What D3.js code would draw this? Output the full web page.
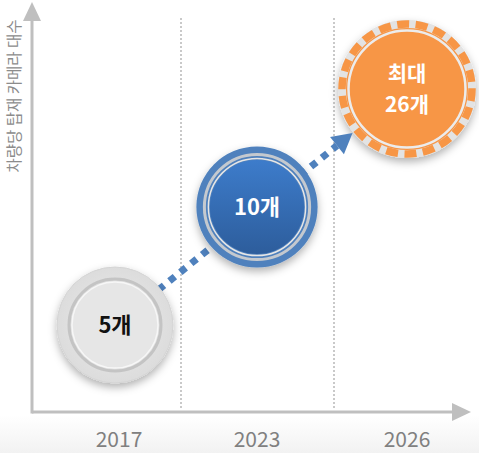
<!DOCTYPE html>
<html>
<head>
<meta charset="utf-8">
<script src="https://cdn.jsdelivr.net/npm/d3@7"></script>
<style>
  html, body { margin: 0; padding: 0; background: #fff; }
  #chart { width: 479px; height: 453px; }
  text { font-family: "Noto Sans CJK KR", "DejaVu Sans", sans-serif; }
</style>
</head>
<body>
<div id="chart"></div>
<script>
(function() {
    const years = ["2017", "2023", "2026"];
    const counts = [5, 10, 26];
    const labels = [["5개"], ["10개"], ["최대", "26개"]];
    const yTitle = "차량당 탑재 카메라 대수";

    const W = 479, H = 453;
    const axisColor = "#bfbfbf";

    const svg = d3.select("#chart").append("svg")
        .attr("width", W)
        .attr("height", H);

    const defs = svg.append("defs");

    // soft grey floor behind the year labels
    const floor = defs.append("linearGradient").attr("id", "floor")
        .attr("x1", 0).attr("y1", 0).attr("x2", 0).attr("y2", 1);
    floor.append("stop").attr("offset", "0%").attr("stop-color", "#ffffff");
    floor.append("stop").attr("offset", "100%").attr("stop-color", "#f2f2f2");

    const shadow = defs.append("filter").attr("id", "shadow")
        .attr("x", "-30%").attr("y", "-30%").attr("width", "160%").attr("height", "170%");
    shadow.append("feDropShadow")
        .attr("dx", 0).attr("dy", 4).attr("stdDeviation", 4)
        .attr("flood-color", "#000").attr("flood-opacity", 0.3);

    const grayFill = defs.append("radialGradient").attr("id", "grayFill");
    grayFill.append("stop").attr("offset", "0%").attr("stop-color", "#ececec");
    grayFill.append("stop").attr("offset", "100%").attr("stop-color", "#dcdcdc");

    const blueFill = defs.append("linearGradient").attr("id", "blueFill")
        .attr("x1", 0).attr("y1", 0).attr("x2", 0).attr("y2", 1);
    blueFill.append("stop").attr("offset", "0%").attr("stop-color", "#3d7ccb");
    blueFill.append("stop").attr("offset", "100%").attr("stop-color", "#2d5d9c");

    svg.append("rect")
        .attr("x", 0).attr("y", 415).attr("width", W).attr("height", H - 415)
        .attr("fill", "url(#floor)");

    // scales
    const x = d3.scaleBand().domain(years).range([34, 484]);
    const y = d3.scalePoint().domain(years).range([325, 89]);
    const r = d3.scaleLinear().domain([5, 26]).range([58, 69]);

    const axisY = 412, axisX = 32;

    // dotted separators between bands
    svg.selectAll(".sep")
        .data(years.slice(1))
        .enter().append("line")
        .attr("class", "sep")
        .attr("x1", d => x(d) - (d === "2023" ? 3 : 0))
        .attr("x2", d => x(d) - (d === "2023" ? 3 : 0))
        .attr("y1", 18).attr("y2", axisY - 2)
        .attr("stroke", "#a6a6a6")
        .attr("stroke-width", 1.2)
        .attr("stroke-dasharray", "2 2");

    // axes with arrow heads
    svg.append("line")
        .attr("x1", axisX).attr("x2", axisX)
        .attr("y1", axisY + 1.5).attr("y2", 18)
        .attr("stroke", axisColor).attr("stroke-width", 3);
    svg.append("path")
        .attr("d", `M${axisX - 9},21 L${axisX},2 L${axisX + 9},21 Z`)
        .attr("fill", axisColor);
    svg.append("line")
        .attr("x1", axisX).attr("x2", 455)
        .attr("y1", axisY).attr("y2", axisY)
        .attr("stroke", axisColor).attr("stroke-width", 3);
    svg.append("path")
        .attr("d", `M452,${axisY - 9} L471,${axisY} L452,${axisY + 9} Z`)
        .attr("fill", axisColor);

    svg.append("text")
        .attr("transform", `translate(20,96) rotate(-90)`)
        .attr("text-anchor", "middle")
        .attr("fill", "#8c8c8c")
        .style("font-size", "15.5px")
        .text(yTitle);

    svg.selectAll(".year")
        .data(years)
        .enter().append("text")
        .attr("class", "year")
        .attr("x", (d, i) => x(d) + x.bandwidth() / 2 + (i === 0 ? 10 : -2))
        .attr("y", 447)
        .attr("text-anchor", "middle")
        .attr("fill", "#808080")
        .style("font-size", "21px")
        .text(d => d);

    const pts = years.map((d, i) => ({
        year: d,
        value: counts[i],
        cx: x(d) + x.bandwidth() / 2 + (i === 0 ? 6 : -2),
        cy: y(d),
        r: r(counts[i]),
        label: labels[i]
    }));

    // dotted trend arrow from first to last circle
    const a = pts[0], b = pts[pts.length - 1];
    const len = Math.hypot(b.cx - a.cx, b.cy - a.cy);
    const ux = (b.cx - a.cx) / len, uy = (b.cy - a.cy) / len;
    const sx = a.cx + ux * (a.r - 2), sy = a.cy + uy * (a.r - 2);
    const tx = b.cx - ux * (b.r + 1), ty = b.cy - uy * (b.r + 1);
    const headLen = 20;
    const arrowBlue = "#4f81bd";

    svg.append("line")
        .attr("x1", sx).attr("y1", sy)
        .attr("x2", tx - ux * headLen).attr("y2", ty - uy * headLen)
        .attr("stroke", arrowBlue)
        .attr("stroke-width", 7)
        .attr("stroke-dasharray", "7 7");

    // circles
    const g = svg.selectAll(".bubble")
        .data(pts)
        .enter().append("g")
        .attr("class", "bubble")
        .attr("transform", d => `translate(${d.cx},${d.cy})`);

    // 2017: grey
    const g0 = g.filter((d, i) => i === 0);
    g0.append("circle").attr("r", d => d.r).attr("fill", "url(#grayFill)")
        .attr("stroke", "#d4d4d4").attr("stroke-width", 1)
        .attr("filter", "url(#shadow)");
    g0.append("circle").attr("r", d => d.r - 12).attr("fill", "none")
        .attr("stroke", "#c4c4c4").attr("stroke-width", 3);
    g0.append("circle").attr("r", d => d.r - 15).attr("fill", "#e6e6e6")
        .attr("stroke", "#f7f7f7").attr("stroke-width", 1.5);

    // 2023: blue
    const g1 = g.filter((d, i) => i === 1);
    g1.append("circle").attr("r", d => d.r).attr("fill", "#4f81bd")
        .attr("filter", "url(#shadow)");
    g1.append("circle").attr("r", d => d.r - 8).attr("fill", "none")
        .attr("stroke", "#d0d0d0").attr("stroke-width", 3).attr("opacity", 0.9);
    g1.append("circle").attr("r", d => d.r - 12).attr("fill", "none")
        .attr("stroke", "#e6e6e6").attr("stroke-width", 1.5);
    g1.append("circle").attr("r", d => d.r - 13.5).attr("fill", "url(#blueFill)");

    // 2026: orange, dashed rim
    const g2 = g.filter((d, i) => i === 2);
    g2.append("circle").attr("r", d => d.r - 4).attr("fill", "#f79646")
        .attr("stroke", "#e3e3e3").attr("stroke-width", 8)
        .attr("filter", "url(#shadow)");
    g2.append("circle").attr("r", d => d.r - 4).attr("fill", "none")
        .attr("stroke", "#f79646").attr("stroke-width", 7.5)
        .attr("stroke-dasharray", "12 6.5");
    g2.append("circle").attr("r", d => d.r - 10.5).attr("fill", "none")
        .attr("stroke", "#ececec").attr("stroke-width", 2.5);
    g2.append("circle").attr("r", d => d.r - 13).attr("fill", "#f79646");

    // labels, one text per line
    g.each(function(d, i) {
        const lh = 31;
        const off = -(d.label.length - 1) * lh / 2;
        d3.select(this).selectAll("text")
            .data(d.label)
            .enter().append("text")
            .attr("text-anchor", "middle")
            .attr("y", (s, k) => off + k * lh)
            .attr("dy", "0.36em")
            .attr("fill", i === 0 ? "#111" : "#fff")
            .style("font-size", i === 2 ? "21px" : "22px")
            .style("font-weight", "bold")
            .text(s => s);
    });

    // arrow head on top of the last circle
    const px = -uy, py = ux;
    const bx = tx - ux * headLen, by = ty - uy * headLen;
    svg.append("path")
        .attr("d", `M${tx},${ty} L${bx + px * 11},${by + py * 11} L${bx - px * 11},${by - py * 11} Z`)
        .attr("fill", arrowBlue);
})();
</script>
</body>
</html>
